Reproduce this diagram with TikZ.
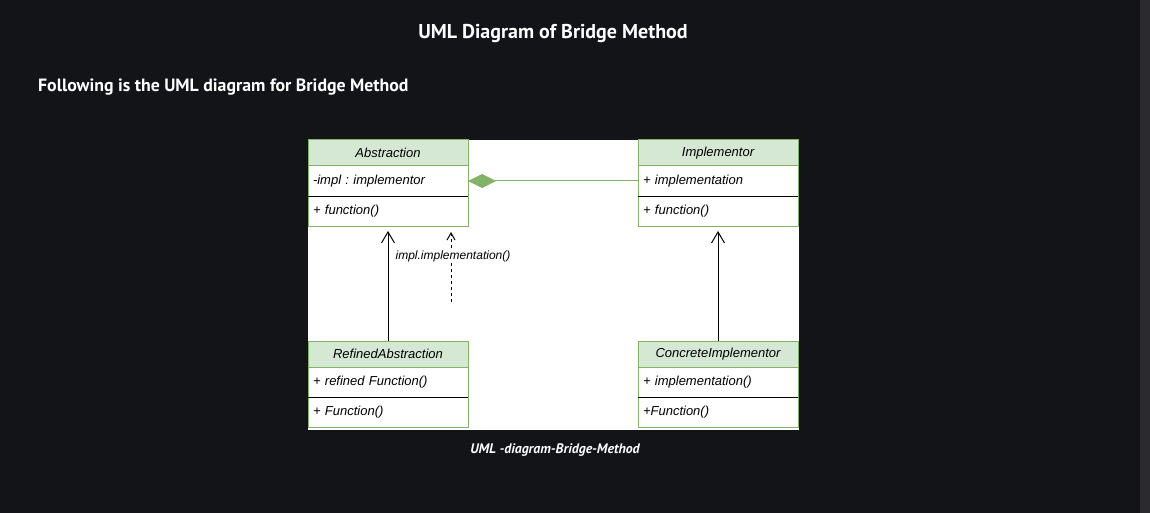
\documentclass[tikz,border=0pt]{standalone}
\usepackage{fontspec}
\setmainfont{Liberation Sans}
\newfontfamily\headfont{PT Sans}
\usetikzlibrary{positioning,arrows.meta}
\definecolor{pagebg}{HTML}{131417}
\definecolor{scrollbg}{HTML}{2B2B2F}
\definecolor{umlfill}{HTML}{D5E8D4}
\definecolor{umlgreen}{HTML}{82B366}
\begin{document}
\frenchspacing
\begin{tikzpicture}[x=1pt, y=-1pt,
  hdr/.style={draw=umlgreen, fill=umlfill, line width=1pt, minimum width=160pt, minimum height=26pt, inner sep=0pt, outer sep=0pt, font=\fontsize{13}{15}\selectfont\itshape},
  member/.style={draw=umlgreen, fill=white, line width=1pt, minimum height=30pt, text width=150pt, inner xsep=5pt, inner ysep=0pt, outer sep=0pt, align=left, font=\fontsize{13}{15}\selectfont\itshape},
  inherit/.style={line width=1pt, -{Straight Barb[length=11pt, width=13pt]}, shorten >=5pt},
  sep/.style={black, line width=1pt}]
% page and drawing canvas
\fill[pagebg] (0,0) rectangle (1150,513);
\fill[scrollbg] (1140,0) rectangle (1150,513);
\fill[white] (308,140) rectangle (799,430);

\node[text=white, font=\headfont\bfseries\fontsize{20}{22}\selectfont] (title) at (553,34) {UML Diagram of Bridge Method};
\node[text=white, anchor=west, inner sep=0pt, font=\headfont\bfseries\fontsize{17.8}{20}\selectfont] (intro) at (38,87) {Following is the UML diagram for Bridge Method};

% Abstraction
\node[hdr] (abs) at (388,153) {Abstraction};
\node[member, below=0pt of abs] (absattr) {-impl : implementor};
\node[member, below=0pt of absattr] (absop) {+ function()};
\draw[sep] (absop.north west) -- (absop.north east);

% Implementor
\node[hdr] (impl) at (718,153) {Implementor};
\node[member, below=0pt of impl] (implattr) {+ implementation};
\node[member, below=0pt of implattr] (implop) {+ function()};
\draw[sep] (implop.north west) -- (implop.north east);

% RefinedAbstraction
\node[hdr] (refabs) at (388,354) {RefinedAbstraction};
\node[member, below=0pt of refabs] (refattr) {+ refined Function()};
\node[member, below=0pt of refattr] (refop) {+ Function()};
\draw[sep] (refop.north west) -- (refop.north east);

% ConcreteImplementor
\node[hdr] (concimpl) at (718,354) {ConcreteImplementor};
\node[member, below=0pt of concimpl] (concattr) {+ implementation()};
\node[member, below=0pt of concattr] (concop) {+Function()};
\draw[sep] (concop.north west) -- (concop.north east);

% bridge (aggregation)
\draw[umlgreen, line width=1pt, -{Diamond[fill=umlgreen, length=28pt, width=14pt]}] (implattr.west) -- (absattr.east);

% inheritance
\draw[inherit] (refabs.north) -- (absop.south);
\draw[inherit] (concimpl.north) -- (implop.south);

% call through impl
\coordinate (callstart) at (451,302);
\draw[line width=1pt, dash pattern=on 3pt off 3pt, -{Straight Barb[length=7pt, width=8pt]}, shorten >=6pt] (callstart) -- (absop.south -| callstart);
\node[fill=white, inner sep=1pt, font=\fontsize{12}{14}\selectfont\itshape] (callnote) at (453,256) {impl.implementation()};

\node[text=white, font=\headfont\bfseries\itshape\fontsize{13.8}{16}\selectfont] (caption) at (555,450) {UML -diagram-Bridge-Method};
\end{tikzpicture}
\end{document}
